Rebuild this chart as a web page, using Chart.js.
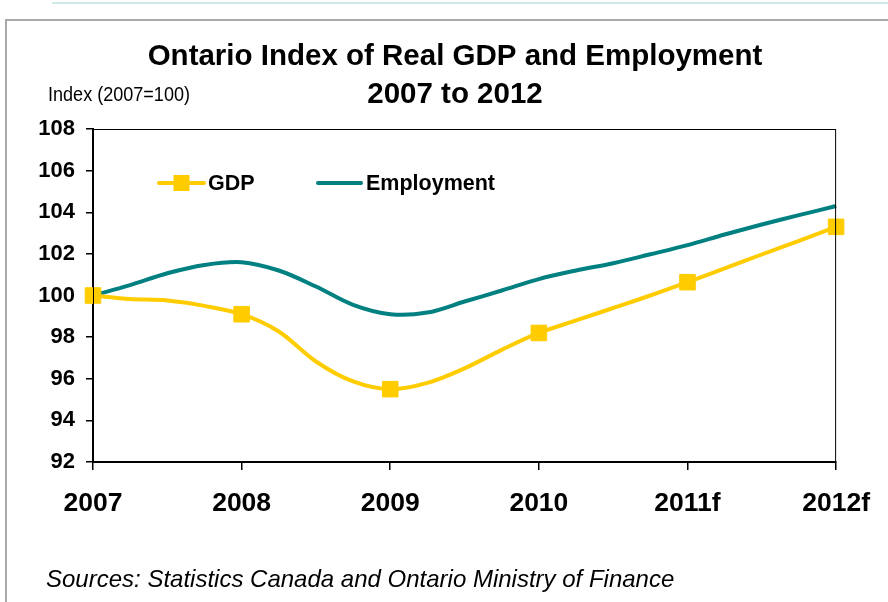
<!DOCTYPE html>
<html>
<head>
<meta charset="utf-8">
<title>Ontario Index of Real GDP and Employment</title>
<script src="https://cdn.jsdelivr.net/npm/chart.js@4"></script>
<style>
  html, body { margin: 0; padding: 0; background: #fff; }
  canvas { display: block; }
</style>
</head>
<body>
<canvas id="c" width="888" height="602"></canvas>
<script>
// Year tick labels (one tick every four quarters)
const years = ['2007', '2008', '2009', '2010', '2011f', '2012f'];
const quartersPerYear = 4;

// Quarterly index values, 2007 = 100
const gdp = [100.0, 99.83, 99.76, 99.5, 99.1, 98.27, 96.83, 95.87, 95.5, 95.8, 96.5,
             97.39, 98.2, 98.8, 99.4, 100.0, 100.64, 101.3, 101.97, 102.63, 103.3];
const employment = [100.0, 100.5, 101.07, 101.47, 101.6, 101.2, 100.43, 99.55, 99.1, 99.18, 99.71,
                    100.24, 100.79, 101.2, 101.55, 101.98, 102.42, 102.93, 103.41, 103.86, 104.3];

const seriesNames = ['GDP', 'Employment'];
const titleLines = ['Ontario Index of Real GDP and Employment', '2007 to 2012'];
const yAxisTitle = 'Index (2007=100)';
const sourceNote = 'Sources: Statistics Canada and Ontario Ministry of Finance';

const GOLD = '#FFCC00';
const TEAL = '#008080';

const toPoints = arr => arr.map((v, i) => ({ x: i, y: v }));
const yearMarkers = arr => arr.map((v, i) => (i % quartersPerYear === 0 ? 11 : 0));

// Frame, titles, axis caption, legend and source line
const decor = {
  id: 'decor',
  beforeDraw(chart) {
    const ctx = chart.ctx;
    ctx.save();
    ctx.fillStyle = '#fff';
    ctx.fillRect(0, 0, chart.width, chart.height);
    ctx.strokeStyle = '#cfe8e8';
    ctx.lineWidth = 2;
    ctx.beginPath(); ctx.moveTo(52, 3); ctx.lineTo(888, 3); ctx.stroke();
    ctx.strokeStyle = '#a8a8a8';
    ctx.beginPath(); ctx.moveTo(6, 602); ctx.lineTo(6, 20); ctx.lineTo(888, 20); ctx.stroke();
    ctx.restore();
  },
  afterDraw(chart) {
    const ctx = chart.ctx;
    const a = chart.chartArea;
    ctx.save();
    // plot box (top & right edges)
    ctx.strokeStyle = '#000';
    ctx.lineWidth = 1;
    ctx.strokeRect(a.left + 0.5, a.top + 0.5, a.right - a.left - 1, a.bottom - a.top);

    ctx.fillStyle = '#000';
    ctx.textAlign = 'center';
    ctx.textBaseline = 'alphabetic';
    ctx.font = 'bold 29.5px "Liberation Sans", Arial, sans-serif';
    ctx.fillText(titleLines[0], 455, 65);
    ctx.fillText(titleLines[1], 455, 103);

    // condensed caption above the value axis
    ctx.textAlign = 'left';
    ctx.font = '20px "Liberation Sans", Arial, sans-serif';
    const w = ctx.measureText(yAxisTitle).width;
    ctx.save();
    ctx.translate(48, 101);
    ctx.scale(142 / w, 1);
    ctx.fillText(yAxisTitle, 0, 0);
    ctx.restore();

    ctx.font = 'italic 24px "Liberation Sans", Arial, sans-serif';
    ctx.fillText(sourceNote, 46, 587);

    // legend drawn from the dataset styles
    const ds = chart.data.datasets;
    const entries = [
      { x0: 159, x1: 204, tx: 208, d: ds[0] },
      { x0: 318, x1: 361, tx: 366, d: ds[1] }
    ];
    const ly = 183;
    ctx.font = 'bold 21.5px "Liberation Sans", Arial, sans-serif';
    ctx.textBaseline = 'middle';
    entries.forEach(e => {
      ctx.strokeStyle = e.d.borderColor;
      ctx.lineWidth = e.d.borderWidth;
      ctx.lineCap = 'round';
      ctx.beginPath(); ctx.moveTo(e.x0, ly); ctx.lineTo(e.x1, ly); ctx.stroke();
      if (e.d.label === seriesNames[0]) {
        ctx.fillStyle = e.d.pointBackgroundColor;
        ctx.fillRect((e.x0 + e.x1) / 2 - 8, ly - 8, 16, 16);
      }
      ctx.fillStyle = '#000';
      ctx.fillText(e.d.label, e.tx, ly + 1);
    });
    ctx.restore();
  }
};

new Chart(document.getElementById('c'), {
  type: 'line',
  data: {
    datasets: [
      {
        label: seriesNames[0],
        data: toPoints(gdp),
        borderColor: GOLD,
        borderWidth: 4,
        pointStyle: 'rect',
        pointRadius: yearMarkers(gdp),
        pointHoverRadius: yearMarkers(gdp),
        pointBackgroundColor: GOLD,
        pointBorderColor: GOLD,
        pointBorderWidth: 1,
        tension: 0.33,
        clip: false,
        order: 1
      },
      {
        label: seriesNames[1],
        data: toPoints(employment),
        borderColor: TEAL,
        borderWidth: 4,
        pointRadius: 0,
        tension: 0.33,
        clip: false,
        order: 2
      }
    ]
  },
  options: {
    responsive: false,
    devicePixelRatio: 1,
    animation: false,
    layout: { padding: { top: 129, right: 48, left: 0, bottom: 0 } },
    plugins: {
      legend: { display: false },
      title: { display: false },
      tooltip: { enabled: false }
    },
    scales: {
      x: {
        type: 'linear',
        min: 0,
        max: (years.length - 1) * quartersPerYear,
        afterFit(scale) { scale.height = 140; },
        ticks: {
          stepSize: quartersPerYear,
          autoSkip: false,
          maxRotation: 0,
          color: '#000',
          padding: 18,
          font: { family: '"Liberation Sans", Arial, sans-serif', size: 26.5, weight: 'bold' },
          callback: v => (v % quartersPerYear === 0 ? years[v / quartersPerYear] : '')
        },
        grid: { drawOnChartArea: false, drawTicks: true, tickLength: 8, color: '#000', lineWidth: 1.5 },
        border: { color: '#000', width: 2 }
      },
      y: {
        min: 92,
        max: 108,
        afterFit(scale) { scale.width = 93; },
        ticks: {
          stepSize: 2,
          color: '#000',
          padding: 11,
          font: { family: '"Liberation Sans", Arial, sans-serif', size: 22, weight: 'bold' }
        },
        grid: { drawOnChartArea: false, drawTicks: true, tickLength: 7, color: '#000', lineWidth: 1.5 },
        border: { color: '#000', width: 2 }
      }
    }
  },
  plugins: [decor]
});
</script>
</body>
</html>
